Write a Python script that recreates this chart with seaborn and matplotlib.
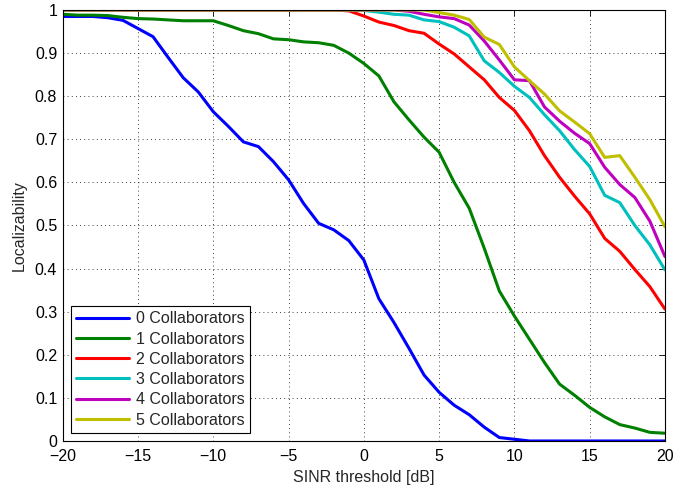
import numpy as np
import pandas as pd
import matplotlib
matplotlib.use('Agg')
import matplotlib.pyplot as plt
import seaborn as sns

# 横轴: SINR 门限 (dB)
sinr = list(range(-20, 21))

collab_0 = [0.985, 0.985, 0.985, 0.982, 0.976, 0.957, 0.938, 0.890, 0.843, 0.810,
            0.764, 0.730, 0.694, 0.683, 0.648, 0.606, 0.551, 0.505, 0.490, 0.465,
            0.420, 0.330, 0.275, 0.215, 0.153, 0.113, 0.083, 0.061, 0.032, 0.008,
            0.004, 0.0, 0.0, 0.0, 0.0, 0.0, 0.0, 0.0, 0.0, 0.0, 0.0]
collab_1 = [0.990, 0.988, 0.988, 0.987, 0.983, 0.980, 0.979, 0.977, 0.975, 0.975,
            0.975, 0.964, 0.952, 0.945, 0.933, 0.931, 0.926, 0.924, 0.918, 0.900,
            0.876, 0.847, 0.787, 0.745, 0.705, 0.670, 0.600, 0.540, 0.447, 0.348,
            0.290, 0.236, 0.182, 0.132, 0.106, 0.078, 0.056, 0.038, 0.030, 0.020,
            0.018]
collab_2 = [1.0, 1.0, 1.0, 1.0, 1.0, 1.0, 1.0, 1.0, 1.0, 1.0,
            1.0, 1.0, 1.0, 1.0, 1.0, 1.0, 1.0, 1.0, 1.0, 0.998,
            0.986, 0.972, 0.964, 0.952, 0.946, 0.921, 0.898, 0.868, 0.838, 0.797,
            0.767, 0.720, 0.662, 0.612, 0.568, 0.527, 0.470, 0.440, 0.398, 0.358,
            0.306]
collab_3 = [1.0, 1.0, 1.0, 1.0, 1.0, 1.0, 1.0, 1.0, 1.0, 1.0,
            1.0, 1.0, 1.0, 1.0, 1.0, 1.0, 1.0, 1.0, 1.0, 1.0,
            0.999, 0.995, 0.990, 0.988, 0.977, 0.973, 0.960, 0.940, 0.882, 0.855,
            0.823, 0.797, 0.757, 0.720, 0.676, 0.637, 0.570, 0.553, 0.500, 0.455,
            0.397]
collab_4 = [1.0, 1.0, 1.0, 1.0, 1.0, 1.0, 1.0, 1.0, 1.0, 1.0,
            1.0, 1.0, 1.0, 1.0, 1.0, 1.0, 1.0, 1.0, 1.0, 1.0,
            1.0, 1.0, 1.0, 0.997, 0.990, 0.984, 0.980, 0.965, 0.928, 0.884,
            0.838, 0.836, 0.775, 0.742, 0.714, 0.690, 0.635, 0.595, 0.565, 0.510,
            0.428]
collab_5 = [1.0, 1.0, 1.0, 1.0, 1.0, 1.0, 1.0, 1.0, 1.0, 1.0,
            1.0, 1.0, 1.0, 1.0, 1.0, 1.0, 1.0, 1.0, 1.0, 1.0,
            1.0, 1.0, 1.0, 1.0, 1.0, 0.994, 0.988, 0.978, 0.937, 0.920,
            0.868, 0.836, 0.805, 0.766, 0.740, 0.713, 0.658, 0.662, 0.612, 0.560,
            0.497]

labels = ['0 Collaborators', '1 Collaborators', '2 Collaborators',
          '3 Collaborators', '4 Collaborators', '5 Collaborators']
colors = ['#0000ff', '#008000', '#ff0000', '#00bfbf', '#bf00bf', '#bfbf00']
series = [collab_0, collab_1, collab_2, collab_3, collab_4, collab_5]

# 组装长表
frames = []
for lab, vals in zip(labels, series):
    frames.append(pd.DataFrame({'sinr': sinr, 'loc': vals, 'group': lab}))
df = pd.concat(frames, ignore_index=True)

sns.set_style('white')
plt.rcParams['font.family'] = ['Liberation Sans', 'DejaVu Sans']
plt.rcParams['axes.unicode_minus'] = True

fig = plt.figure(figsize=(6.93, 4.87), dpi=100)
ax = fig.add_axes([0.0905, 0.0945, 0.869, 0.885])

sns.lineplot(data=df, x='sinr', y='loc', hue='group', hue_order=labels,
             palette=colors, linewidth=2.2, ax=ax)

ax.set_xlim(-20, 20)
ax.set_ylim(0, 1)
ax.set_xticks(np.arange(-20, 21, 5))
ax.set_yticks(np.arange(0, 1.01, 0.1))
ax.set_yticklabels(['0', '0.1', '0.2', '0.3', '0.4', '0.5', '0.6', '0.7', '0.8', '0.9', '1'])
ax.set_xticklabels(['\u221220', '\u221215', '\u221210', '\u22125', '0', '5', '10', '15', '20'])
ax.tick_params(direction='in', length=4, width=0.6, top=True, right=True,
               labelsize=11.5, colors='black')
ax.tick_params(axis='x', pad=6)
ax.tick_params(axis='y', pad=4)
ax.grid(True, linestyle=(0, (1, 4)), color='black', linewidth=0.6)
for sp in ax.spines.values():
    sp.set_color('black')
    sp.set_linewidth(0.8)

ax.set_xlabel('SINR threshold [dB]', fontsize=11.5, labelpad=4)
ax.set_ylabel('Localizability', fontsize=11.5, labelpad=6)

leg = ax.legend(loc='lower left', bbox_to_anchor=(0.013, 0.018), fontsize=11.5,
                handlelength=3.3, handletextpad=0.45, labelspacing=0.33,
                borderpad=0.35, borderaxespad=0.0, fancybox=False, framealpha=1)
leg.get_frame().set_edgecolor('black')
leg.get_frame().set_linewidth(0.8)

fig.savefig('out.png', dpi=100)
